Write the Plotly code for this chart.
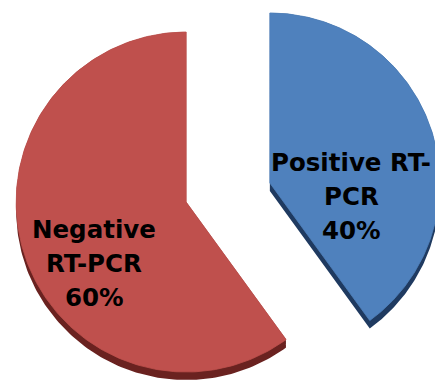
import numpy as np
import plotly.graph_objects as go

# Share of RT-PCR results
labels = ["Positive RT-PCR", "Negative RT-PCR"]
values = [40, 60]
label_lines = [["Positive RT-", "PCR"], ["Negative", "RT-PCR"]]

face_colors = ["#4F81BD", "#BF504D"]
side_colors = ["#1F3A60", "#6A2220"]

W, H = 435, 380
cx0, cy0 = 228.0, 192.5      # pie centre before exploding
radius = 170.0
explode = 44.0                # distance each slice is pulled out
explode_tilt = 0.7            # vertical foreshortening of the pull
depth = (0.0, 8.0)            # extrusion of the 3-D slab
label_pos = [(351, 196), (94, 263)]   # centre of the middle text line
line_gap = 34

total = sum(values)
fig = go.Figure()

tops, sides = [], []
start = 0.0
for i, v in enumerate(values):
    sweep = 360.0 * v / total
    mid = np.radians(start + sweep / 2)
    cx = cx0 + explode * np.sin(mid)
    cy = cy0 - explode * np.cos(mid) * explode_tilt
    ang = np.radians(np.linspace(start, start + sweep, 200))
    xs = np.concatenate([[cx], cx + radius * np.sin(ang), [cx]])
    ys = np.concatenate([[cy], cy - radius * np.cos(ang), [cy]])
    tops.append((xs, ys))

    # dark slab underneath: the face swept along the depth vector
    sx, sy = [], []
    for t in np.linspace(0, 1, 16):
        sx += list(xs + depth[0] * t) + [None]
        sy += list(ys + depth[1] * t) + [None]
    sides.append((sx, sy))
    start += sweep

for i in range(len(values)):
    sx, sy = sides[i]
    fig.add_trace(go.Scatter(x=sx, y=sy, mode="lines", fill="toself",
                             fillcolor=side_colors[i], line=dict(width=0, color=side_colors[i]),
                             hoverinfo="skip", showlegend=False))
for i in range(len(values)):
    xs, ys = tops[i]
    fig.add_trace(go.Scatter(x=xs, y=ys, mode="lines", fill="toself",
                             fillcolor=face_colors[i], line=dict(width=0.8, color=face_colors[i]),
                             name=labels[i], hoverinfo="name", showlegend=False))

for i, v in enumerate(values):
    lines = label_lines[i] + [f"{v}%"]
    lx, ly = label_pos[i]
    for k, txt in enumerate(lines):
        fig.add_annotation(x=lx, y=ly + (k - 1) * line_gap, text=f"<b>{txt}</b>",
                           showarrow=False, xanchor="center", yanchor="middle",
                           font=dict(family="DejaVu Sans", size=24.5, color="black"))

fig.update_layout(
    width=W, height=H,
    margin=dict(l=0, r=0, t=0, b=0),
    paper_bgcolor="white", plot_bgcolor="white",
    xaxis=dict(range=[0, W], visible=False, fixedrange=True),
    yaxis=dict(range=[H, 0], visible=False, fixedrange=True),
)

fig.write_html("out.html")
